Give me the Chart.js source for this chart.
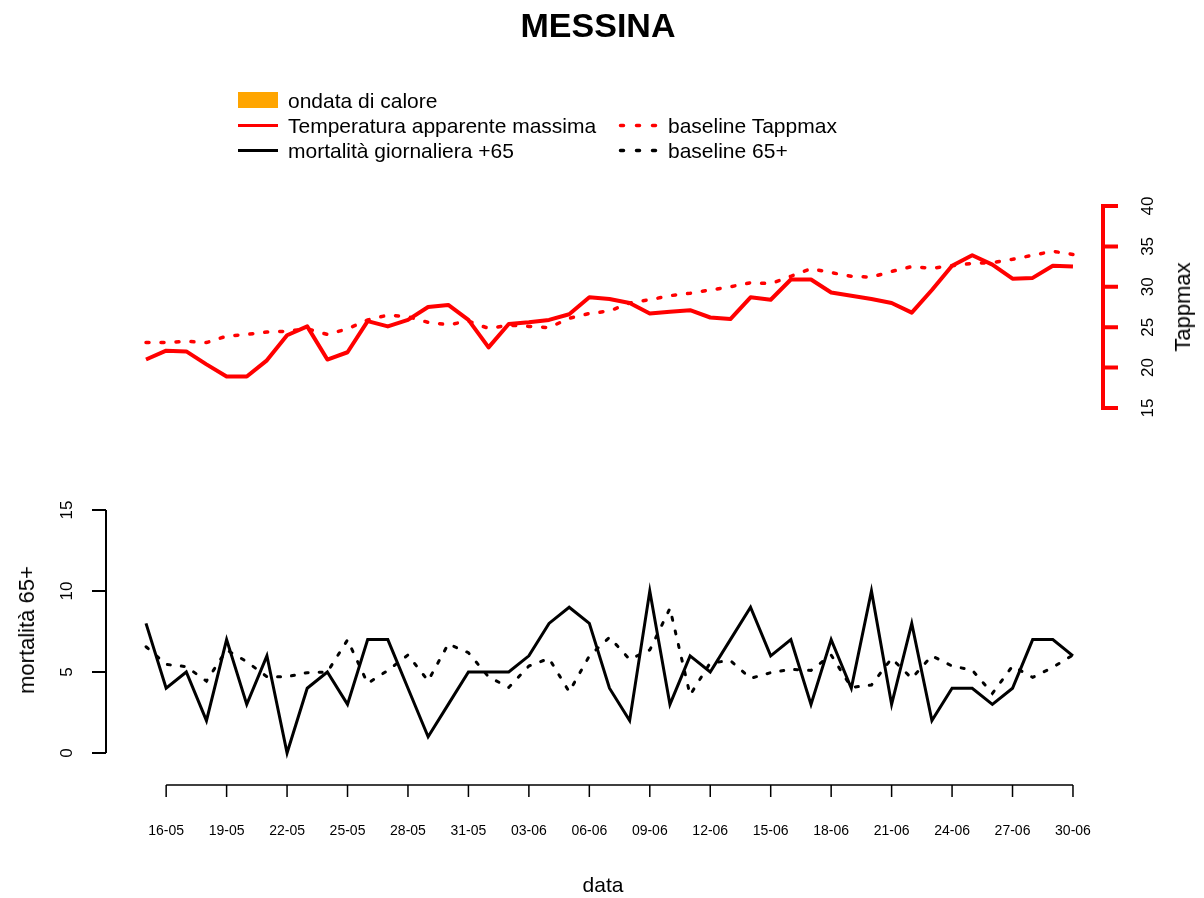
<!DOCTYPE html>
<html>
<head>
<meta charset="utf-8">
<script src="https://cdn.jsdelivr.net/npm/chart.js@4.4.1/dist/chart.umd.min.js"></script>
<style>
  body { margin: 0; background: #fff; }
  #wrap { position: relative; width: 1204px; height: 898px; font-family: "Liberation Sans", Arial, sans-serif; color: #000; }
  #c { position: absolute; left: 0; top: 0; }
  .txt { position: absolute; white-space: nowrap; }
  .rot { position: absolute; white-space: nowrap; transform: translate(-50%, -50%) rotate(-90deg); }
  .leg { position: absolute; font-size: 21px; line-height: 25px; white-space: nowrap; }
  svg { position: absolute; overflow: visible; }
</style>
</head>
<body>
<div id="wrap">
  <canvas id="c" width="1204" height="898"></canvas>

  <div class="txt" style="left:0;width:1196px;top:6px;text-align:center;font-weight:bold;font-size:34px;line-height:38px;">MESSINA</div>

  <!-- legend -->
  <div style="position:absolute;left:238px;top:92px;width:40px;height:16px;background:#ffa500;"></div>
  <div class="leg" style="left:288px;top:88px;">ondata di calore</div>
  <svg style="left:238px;top:113px;" width="40" height="25"><line x1="0" y1="12.5" x2="40" y2="12.5" stroke="#ff0000" stroke-width="3"/></svg>
  <div class="leg" style="left:288px;top:113px;">Temperatura apparente massima</div>
  <svg style="left:238px;top:138px;" width="40" height="25"><line x1="0" y1="12.5" x2="40" y2="12.5" stroke="#000" stroke-width="3"/></svg>
  <div class="leg" style="left:288px;top:138px;">mortalità giornaliera +65</div>
  <svg style="left:618px;top:113px;" width="40" height="25"><line x1="2.5" y1="12.5" x2="40" y2="12.5" stroke="#ff0000" stroke-width="3.5" stroke-linecap="round" stroke-dasharray="3 13"/></svg>
  <div class="leg" style="left:668px;top:113px;">baseline Tappmax</div>
  <svg style="left:618px;top:138px;" width="40" height="25"><line x1="2.5" y1="12.5" x2="40" y2="12.5" stroke="#000" stroke-width="3.5" stroke-linecap="round" stroke-dasharray="3 13"/></svg>
  <div class="leg" style="left:668px;top:138px;">baseline 65+</div>

  <!-- axis titles -->
  <div class="rot" style="left:1183px;top:307px;font-size:22px;">Tappmax</div>
  <div class="rot" style="left:27px;top:630px;font-size:22px;">mortalità 65+</div>
  <div class="txt" style="left:603px;top:885px;transform:translate(-50%,-50%);font-size:21px;">data</div>
</div>

<script>
// days from 15-05 to 30-06
const dates = ['15-05','16-05','17-05','18-05','19-05','20-05','21-05','22-05','23-05','24-05',
  '25-05','26-05','27-05','28-05','29-05','30-05','31-05','01-06','02-06','03-06',
  '04-06','05-06','06-06','07-06','08-06','09-06','10-06','11-06','12-06','13-06',
  '14-06','15-06','16-06','17-06','18-06','19-06','20-06','21-06','22-06','23-06',
  '24-06','25-06','26-06','27-06','28-06','29-06','30-06'];

// Temperatura apparente massima
const tappmax = [21.0, 22.1, 22.0, 20.4, 18.9, 18.9, 20.9, 24.0, 25.1, 21.0,
  21.9, 25.75, 25.1, 25.9, 27.5, 27.75, 25.9, 22.5, 25.4, 25.6,
  25.9, 26.6, 28.7, 28.5, 28.0, 26.7, 26.9, 27.1, 26.2, 26.0,
  28.7, 28.4, 30.9, 30.9, 29.3, 28.9, 28.5, 28.0, 26.8, 29.6,
  32.6, 33.9, 32.75, 31.0, 31.1, 32.6, 32.5];

// baseline Tappmax
const baseTapp = [23.1, 23.1, 23.25, 23.1, 23.9, 24.1, 24.4, 24.5, 24.8, 24.1,
  24.8, 25.9, 26.5, 26.3, 25.6, 25.3, 25.75, 24.85, 25.25, 25.1,
  24.95, 26.1, 26.7, 27.0, 28.0, 28.4, 28.9, 29.2, 29.6, 30.0,
  30.5, 30.4, 31.3, 32.25, 31.75, 31.3, 31.2, 31.9, 32.5, 32.3,
  32.6, 32.9, 33.0, 33.4, 33.9, 34.4, 34.0];

// mortalità giornaliera +65
const mort65 = [8, 4, 5, 2, 7, 3, 6, 0, 4, 5,
  3, 7, 7, 4, 1, 3, 5, 5, 5, 6,
  8, 9, 8, 4, 2, 10, 3, 6, 5, 7,
  9, 6, 7, 3, 7, 4, 10, 3, 8, 2,
  4, 4, 3, 4, 7, 7, 6];

// baseline 65+
const base65 = [6.56, 5.47, 5.33, 4.44, 6.36, 5.64, 4.71, 4.71, 4.96, 5.0,
  6.98, 4.3, 5.1, 6.05, 4.46, 6.73, 6.19, 4.7, 4.05, 5.37,
  5.84, 3.78, 5.99, 7.14, 5.78, 6.36, 8.93, 3.58, 5.57, 5.7,
  4.61, 4.96, 5.17, 5.1, 6.05, 4.05, 4.2, 5.84, 4.61, 6.0,
  5.37, 5.12, 3.68, 5.37, 4.67, 5.29, 6.05];

// tick labels
const xTickLabels = ['16-05','19-05','22-05','25-05','28-05','31-05','03-06','06-06',
  '09-06','12-06','15-06','18-06','21-06','24-06','27-06','30-06'];
const tappTicks = [15, 20, 25, 30, 35, 40];
const mortTicks = [0, 5, 10, 15];

const FONT = '"Liberation Sans", Arial, sans-serif';
const toXY = arr => arr.map((v, i) => ({ x: i, y: v }));

// draw the R-style axes with the chart's own scales
const rAxes = {
  id: 'rAxes',
  afterDraw(chart) {
    const c = chart.ctx;
    const sx = chart.scales.x, sT = chart.scales.yT, sM = chart.scales.yM;
    const area = chart.chartArea;
    c.save();

    // right axis, Tappmax (red)
    const xr = area.right;
    c.strokeStyle = '#ff0000';
    c.lineWidth = 4;
    c.lineCap = 'square';
    c.beginPath();
    c.moveTo(xr, sT.getPixelForValue(tappTicks[0]));
    c.lineTo(xr, sT.getPixelForValue(tappTicks[tappTicks.length - 1]));
    tappTicks.forEach(t => {
      const py = sT.getPixelForValue(t);
      c.moveTo(xr, py);
      c.lineTo(xr + 13, py);
    });
    c.stroke();
    c.fillStyle = '#000';
    c.font = '17px ' + FONT;
    c.textAlign = 'center';
    c.textBaseline = 'middle';
    tappTicks.forEach(t => {
      c.save();
      c.translate(xr + 45, sT.getPixelForValue(t));
      c.rotate(-Math.PI / 2);
      c.fillText(String(t), 0, 0);
      c.restore();
    });

    // left axis, mortality
    const xl = area.left;
    c.strokeStyle = '#000';
    c.lineWidth = 2;
    c.lineCap = 'butt';
    c.beginPath();
    c.moveTo(xl, sM.getPixelForValue(mortTicks[0]));
    c.lineTo(xl, sM.getPixelForValue(mortTicks[mortTicks.length - 1]));
    mortTicks.forEach(t => {
      const py = sM.getPixelForValue(t);
      c.moveTo(xl, py);
      c.lineTo(xl - 14, py);
    });
    c.stroke();
    mortTicks.forEach(t => {
      c.save();
      c.translate(xl - 39, sM.getPixelForValue(t));
      c.rotate(-Math.PI / 2);
      c.fillText(String(t), 0, 0);
      c.restore();
    });

    // bottom axis, dates
    const yb = area.bottom;
    const idx = xTickLabels.map(l => dates.indexOf(l));
    c.lineWidth = 1.5;
    c.beginPath();
    c.moveTo(sx.getPixelForValue(idx[0]), yb);
    c.lineTo(sx.getPixelForValue(idx[idx.length - 1]), yb);
    idx.forEach(i => {
      const px = sx.getPixelForValue(i);
      c.moveTo(px, yb);
      c.lineTo(px, yb + 12);
    });
    c.stroke();
    c.font = '14px ' + FONT;
    idx.forEach((i, k) => {
      c.fillText(xTickLabels[k], sx.getPixelForValue(i), yb + 46);
    });

    c.restore();
  }
};

new Chart(document.getElementById('c').getContext('2d'), {
  type: 'line',
  data: {
    datasets: [
      {
        label: 'Temperatura apparente massima',
        data: toXY(tappmax),
        yAxisID: 'yT',
        borderColor: '#ff0000',
        borderWidth: 4,
        borderJoinStyle: 'round',
        pointRadius: 0,
        tension: 0
      },
      {
        label: 'baseline Tappmax',
        data: toXY(baseTapp),
        yAxisID: 'yT',
        borderColor: '#ff0000',
        borderWidth: 3.5,
        borderDash: [3, 12],
        borderCapStyle: 'round',
        pointRadius: 0,
        tension: 0
      },
      {
        label: 'mortalità giornaliera +65',
        data: toXY(mort65),
        yAxisID: 'yM',
        borderColor: '#000',
        borderWidth: 3,
        borderJoinStyle: 'miter',
        pointRadius: 0,
        tension: 0
      },
      {
        label: 'baseline 65+',
        data: toXY(base65),
        yAxisID: 'yM',
        borderColor: '#000',
        borderWidth: 3,
        borderDash: [3, 11],
        borderCapStyle: 'round',
        pointRadius: 0,
        tension: 0
      }
    ]
  },
  options: {
    responsive: false,
    animation: false,
    devicePixelRatio: 1,
    layout: { padding: { left: 106, right: 101, top: 206, bottom: 113 } },
    plugins: {
      legend: { display: false }, // legend is in the HTML above
      title: { display: false },
      tooltip: { enabled: false }
    },
    scales: {
      x: { type: 'linear', display: false, min: -1.985, max: 47.49 },
      // top panel: 40 at the top edge, 15 about 200px lower
      yT: { type: 'linear', display: false, min: -31.66, max: 40 },
      // bottom panel: 0..15 near the bottom
      yM: { type: 'linear', display: false, min: -1.975, max: 33.77 }
    }
  },
  plugins: [rAxes]
});
</script>
</body>
</html>
